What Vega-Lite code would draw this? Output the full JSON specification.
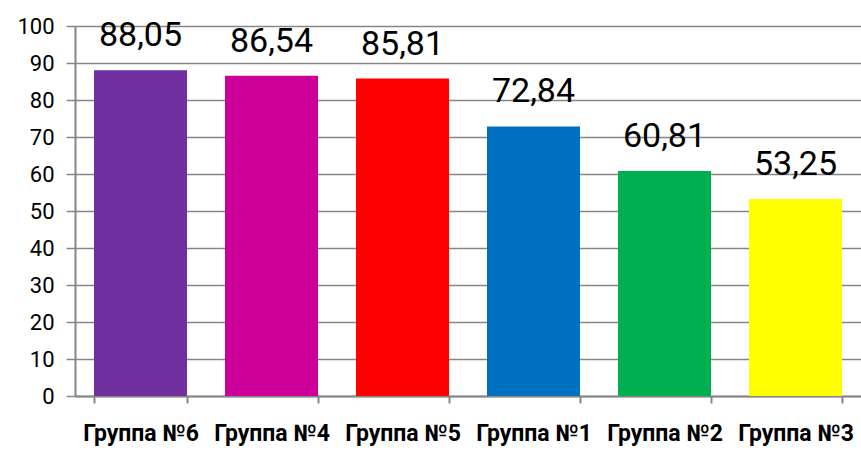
{
  "$schema": "https://vega.github.io/schema/vega-lite/v6.json",
  "autosize": {"type": "none"},
  "width": 786,
  "height": 370,
  "padding": {"left": 75, "top": 26, "right": 0, "bottom": 54},
  "background": "white",
  "config": {
    "view": {"stroke": null},
    "font": "Roboto",
    "locale": {"number": {"decimal": ",", "thousands": " ", "grouping": [3], "currency": ["", ""]}}
  },
  "data": {
    "values": [
      {"group": "Группа №6", "value": 88.05, "color": "#7030A0"},
      {"group": "Группа №4", "value": 86.54, "color": "#CC0099"},
      {"group": "Группа №5", "value": 85.81, "color": "#FF0000"},
      {"group": "Группа №1", "value": 72.84, "color": "#0070C0"},
      {"group": "Группа №2", "value": 60.81, "color": "#00B050"},
      {"group": "Группа №3", "value": 53.25, "color": "#FFFF00"}
    ]
  },
  "encoding": {
    "x": {
      "field": "group", "type": "nominal", "sort": null,
      "scale": {"paddingInner": 0.29, "paddingOuter": 0.145},
      "axis": {
        "title": null, "labelAngle": 0, "labelFont": "Roboto", "labelFontSize": 23, "labelFontWeight": "bold",
        "labelColor": "#000000", "labelPadding": 19, "tickBand": "extent", "tickSize": 7, "labelLimit": 200,
        "tickColor": "#868686", "domainColor": "#868686", "domainWidth": 2, "tickWidth": 2, "grid": false
      }
    },
    "y": {
      "field": "value", "type": "quantitative",
      "scale": {"domain": [0, 100]},
      "axis": {
        "title": null, "values": [0, 10, 20, 30, 40, 50, 60, 70, 80, 90, 100],
        "labelFontSize": 22, "labelColor": "#000000", "labelPadding": 12, "tickSize": 9,
        "tickColor": "#868686", "domainColor": "#868686", "domainWidth": 2, "tickWidth": 1.5,
        "gridColor": "#868686", "gridWidth": 1.5
      }
    }
  },
  "layer": [
    {
      "mark": {"type": "bar"},
      "encoding": {"color": {"field": "color", "type": "nominal", "scale": null}}
    },
    {
      "mark": {"type": "text", "baseline": "alphabetic", "dy": -24, "fontSize": 34, "font": "Roboto", "color": "#000000"},
      "encoding": {"text": {"field": "value", "type": "quantitative", "format": ".2f"}}
    }
  ]
}
